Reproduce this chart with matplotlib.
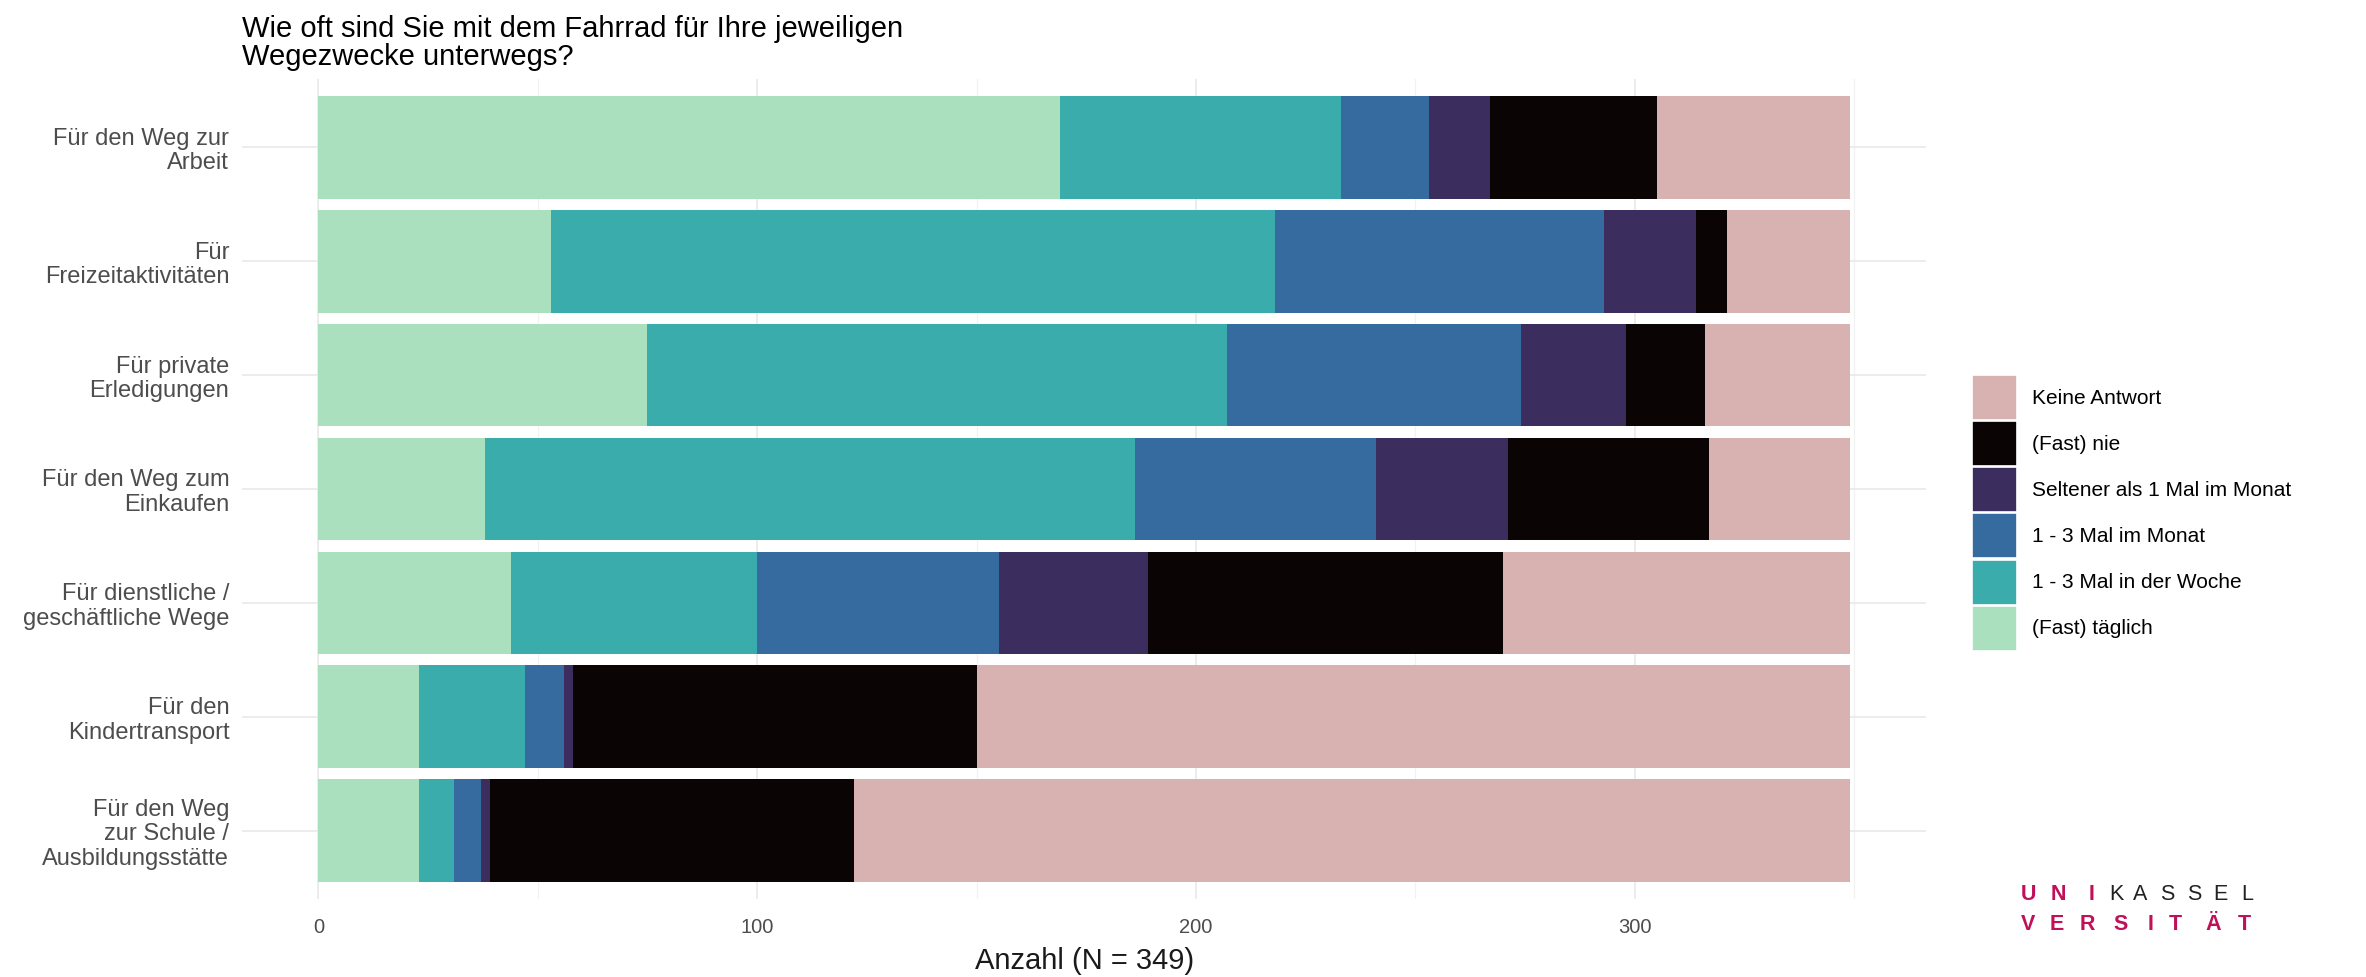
import numpy as np
import matplotlib
matplotlib.use("Agg")
import matplotlib.pyplot as plt
from matplotlib.patches import Patch

plt.rcParams["font.family"] = ["Liberation Sans", "DejaVu Sans"]

# Kategorien (von oben nach unten)
kategorien = [
    "Für den Weg zur\nArbeit",
    "Für\nFreizeitaktivitäten",
    "Für private\nErledigungen",
    "Für den Weg zum\nEinkaufen",
    "Für dienstliche /\ngeschäftliche Wege",
    "Für den\nKindertransport",
    "Für den Weg\nzur Schule /\nAusbildungsstätte",
]

# Antworten (Anzahl)
taeglich = [169, 53, 75, 38, 44, 23, 23]
woche = [64, 165, 132, 148, 56, 24, 8]
monat = [20, 75, 67, 55, 55, 9, 6]
seltener = [14, 21, 24, 30, 34, 2, 2]
nie = [38, 7, 18, 46, 81, 92, 83]
keine = [44, 28, 33, 32, 79, 199, 227]

antworten = ["(Fast) täglich", "1 - 3 Mal in der Woche", "1 - 3 Mal im Monat",
             "Seltener als 1 Mal im Monat", "(Fast) nie", "Keine Antwort"]
farben = ["#aae0bd", "#3aacac", "#366b9f", "#3b2e5e", "#0b0405", "#d8b1b1"]
werte = [taeglich, woche, monat, seltener, nie, keine]

N = 349

fig = plt.figure(figsize=(23.66, 9.77), dpi=100)
ax = fig.add_axes([0.1022, 0.080, 0.712, 0.839])

y = np.arange(len(kategorien))
links = np.zeros(len(kategorien))
for name, farbe, w in zip(antworten, farben, werte):
    ax.barh(y, w, left=links, height=0.9, color=farbe, label=name, zorder=2)
    links += np.array(w)

ax.set_xlim(-0.05 * N, 1.05 * N)
ax.set_ylim(len(kategorien) - 0.4, -0.6)

ax.set_xticks([0, 100, 200, 300])
ax.set_xticks([50, 150, 250, 350], minor=True)
ax.set_yticks(y)
ax.set_yticklabels(kategorien, linespacing=1.15)

ax.grid(True, which="major", color="#ebebeb", linewidth=1.3, zorder=0)
ax.grid(True, which="minor", axis="x", color="#f2f2f2", linewidth=0.9, zorder=0)
ax.set_axisbelow(True)
for s in ax.spines.values():
    s.set_visible(False)
ax.tick_params(axis="both", which="both", length=0)
ax.tick_params(axis="y", labelsize=17, labelcolor="#4d4d4d", pad=9)
ax.tick_params(axis="x", labelsize=14.5, labelcolor="#4d4d4d", pad=14)

ax.set_xlabel("Anzahl (N = 349)", fontsize=21, color="#1a1a1a", labelpad=7)

fig.text(0.1022, 0.985, "Wie oft sind Sie mit dem Fahrrad für Ihre jeweiligen\nWegezwecke unterwegs?",
         fontsize=21, ha="left", va="top", linespacing=1.02)

# Legende (umgekehrte Reihenfolge)
handles = [Patch(facecolor=f, edgecolor="white", linewidth=1.2) for f in farben][::-1]
fig.legend(handles, antworten[::-1], loc="center left", bbox_to_anchor=(0.829, 0.475),
           frameon=False, fontsize=15, handlelength=2.16, handleheight=2.95,
           labelspacing=0.05, handletextpad=0.72, borderpad=0)

# Logo Universität Kassel
magenta = "#c1105a"
zeile1 = [("U", 2028, magenta, "bold"), ("N", 2058, magenta, "bold"), ("I", 2092, magenta, "bold"),
          ("K", 2116, "#222222", "normal"), ("A", 2140, "#222222", "normal"), ("S", 2167, "#222222", "normal"),
          ("S", 2194, "#222222", "normal"), ("E", 2220, "#222222", "normal"), ("L", 2247, "#222222", "normal")]
zeile2 = ["V", "E", "R", "S", "I", "T", "Ä", "T"]
x2 = [2028, 2057, 2087, 2121, 2151, 2175, 2213, 2244]
for b, xp, c, wgt in zeile1:
    fig.text(xp / 2366, 1 - 894 / 977, b, fontsize=15.5, color=c, fontweight=wgt, ha="center", va="center")
for b, xp in zip(zeile2, x2):
    fig.text(xp / 2366, 1 - 924 / 977, b, fontsize=15.5, color=magenta, fontweight="bold", ha="center", va="center")

fig.savefig("out.png", dpi=100, facecolor="white")
